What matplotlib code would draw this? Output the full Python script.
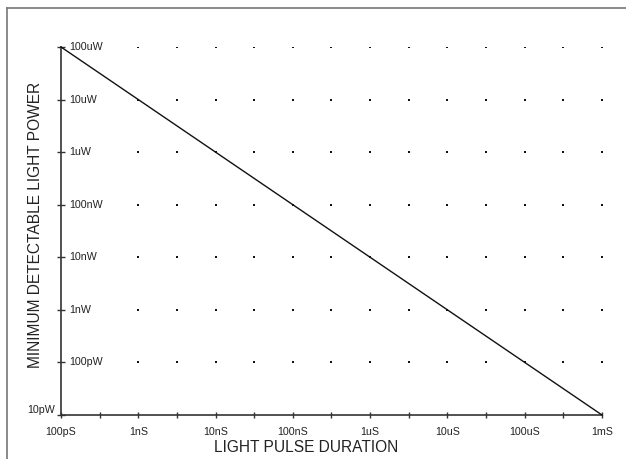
import matplotlib
matplotlib.use("Agg")
import matplotlib.pyplot as plt
import matplotlib.transforms as mtransforms
import numpy as np

plt.rcParams['font.family'] = ['Liberation Sans', 'DejaVu Sans']

# Data
x_tick_values = [1e-10, 1e-9, 1e-8, 1e-7, 1e-6, 1e-5, 1e-4, 1e-3]
x_tick_labels = ["100pS", "1nS", "10nS", "100nS", "1uS", "10uS", "100uS", "1mS"]
y_tick_values = [1e-11, 1e-10, 1e-9, 1e-8, 1e-7, 1e-6, 1e-5, 1e-4]
y_tick_labels = ["10pW", "100pW", "1nW", "10nW", "100nW", "1uW", "10uW", "100uW"]
x_minor_ticks = [3.16e-10, 3.16e-9, 3.16e-8, 3.16e-7, 3.16e-6, 3.16e-5, 3.16e-4]
line_x = [1e-10, 1e-3]
line_y = [1e-4, 1e-11]
dot_x = [1e-9, 3.16e-9, 1e-8, 3.16e-8, 1e-7, 3.16e-7, 1e-6, 3.16e-6,
         1e-5, 3.16e-5, 1e-4, 3.16e-4, 1e-3]
dot_y = [1e-10, 1e-9, 1e-8, 1e-7, 1e-6, 1e-5, 1e-4]

fig = plt.figure(figsize=(6.26, 4.59), dpi=100)
ax = fig.add_axes([61/626, 1-415/459, (602-61)/626, (415-47)/459])

# outer frame (left and top edges visible)
fig.add_artist(plt.Line2D([7/626, 7/626], [0, 1-8/459], transform=fig.transFigure,
                          color='#777777', lw=1.2))
fig.add_artist(plt.Line2D([7/626, 1], [1-8/459, 1-8/459], transform=fig.transFigure,
                          color='#777777', lw=1.2))

ax.set_xscale('log')
ax.set_yscale('log')
ax.set_xlim(1e-10, 1e-3)
ax.set_ylim(1e-11, 1e-4)

# dots grid
gx, gy = np.meshgrid(dot_x, dot_y)
ax.scatter(gx.ravel(), gy.ravel(), s=3, color='#111111', marker='s', linewidths=0, zorder=2)

ax.plot(line_x, line_y, color='#111111', lw=1.0, zorder=3, clip_on=False)

for s in ['top', 'right']:
    ax.spines[s].set_visible(False)
for s in ['left', 'bottom']:
    ax.spines[s].set_color('#333333')
    ax.spines[s].set_linewidth(1.2)

ax.set_xticks(x_tick_values)
ax.set_xticks(x_minor_ticks, minor=True)
ax.set_xticklabels(x_tick_labels, fontsize=7.7, color='#222222')
ax.tick_params(axis='x', which='both', direction='inout', length=5, width=1, color='#333333', pad=6)
ax.set_yticks(y_tick_values)
ax.yaxis.set_minor_locator(matplotlib.ticker.NullLocator())
ax.set_yticklabels([])
ax.tick_params(axis='y', which='both', direction='inout', length=6, width=1, color='#333333')

trans = mtransforms.blended_transform_factory(ax.transAxes, ax.transData)
for v, lab in zip(y_tick_values, y_tick_labels):
    if v == 1e-11:
        ax.text(-0.012, v, lab, transform=trans, ha='right', va='bottom', fontsize=7.7,
                color='#222222')
    else:
        ax.text(0.015, v, lab, transform=trans, ha='left', va='center', fontsize=7.7,
                color='#222222')

fig.text(306/626, 1-447/459, "LIGHT PULSE DURATION", ha='center', va='center',
         fontsize=11.2, color='#222222')
fig.text(36/626, 1-225/459, "MINIMUM DETECTABLE LIGHT POWER", ha='center', va='center',
         rotation=90, fontsize=11.2, color='#222222')

fig.savefig("out.png", dpi=100)
